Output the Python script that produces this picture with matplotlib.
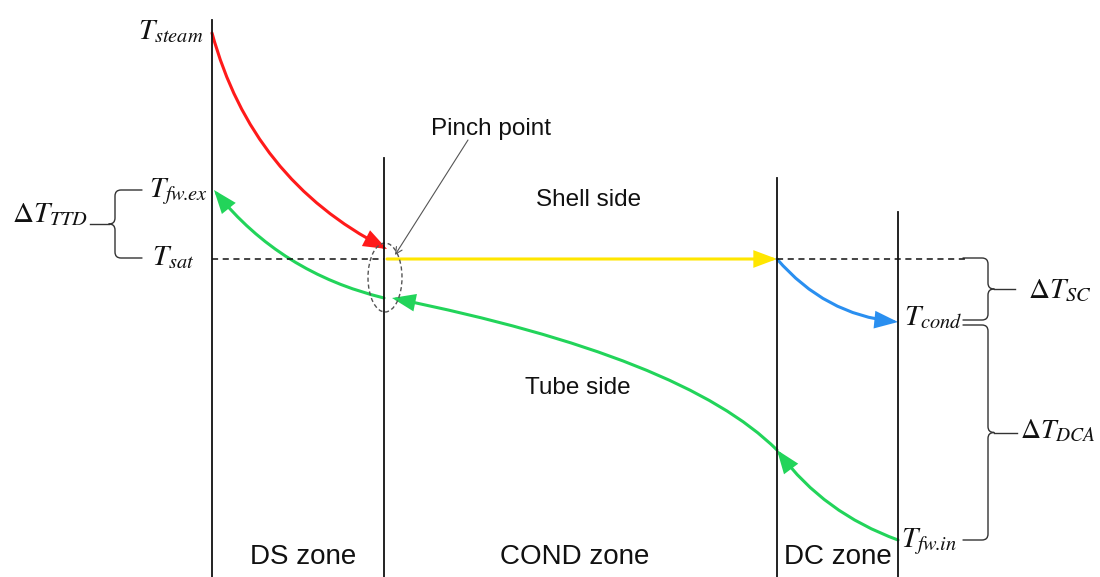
"""Temperature profile sketch of a feedwater heater: DS / COND / DC zones."""

import matplotlib.pyplot as plt
from matplotlib.patches import FancyArrowPatch, Ellipse
from matplotlib.path import Path

plt.rcParams["mathtext.fontset"] = "stix"
plt.rcParams["font.family"] = ["Liberation Sans", "DejaVu Sans"]

# zone boundaries along the heater and how high each boundary line is drawn
zone_x = [212, 384, 777, 898]
zone_top = [557, 419, 399, 365]
zone_names = ["DS zone", "COND zone", "DC zone"]
zone_label_x = [303, 575, 838]

# temperature levels (drawing units, higher = hotter)
T_steam = 544
T_fw_ex = 387
T_sat = 318
T_cond = 255
T_fw_in = 37
T_fw_pinch = 279
T_fw_dc = 127

RED = "#FF1A1A"
GREEN = "#22D45A"
YELLOW = "#FFE600"
BLUE = "#2A8FF0"
INK = "#111111"
BRACE = "#333333"

MATH_SIZE = 21
TEXT_SIZE = 17.5
ZONE_SIZE = 20
HEAD = "-|>,head_length=0.8,head_width=0.3"


def arrow(ax, start, end, color, rad=0.0, ctrl=None, lw=2.2):
    """Arrow along a straight line, an arc3 bend, or a quadratic through ctrl."""
    style = dict(arrowstyle=HEAD, mutation_scale=16, color=color, lw=lw,
                 shrinkA=0, shrinkB=0, joinstyle="miter")
    if ctrl is None:
        patch = FancyArrowPatch(start, end, connectionstyle=f"arc3,rad={rad}",
                                **style)
    else:
        path = Path([start, ctrl, end], [Path.MOVETO, Path.CURVE3, Path.CURVE3])
        patch = FancyArrowPatch(path=path, **style)
    ax.add_patch(patch)


def draw_brace(ax, x_arm, x_spine, y_lo, y_hi, x_tip, r=6):
    """Curly brace with horizontal arms at y_lo / y_hi and a cusp at mid height."""
    d = 1 if x_tip > x_spine else -1
    y_mid = (y_lo + y_hi) / 2
    for y_end, s in ((y_hi, 1), (y_lo, -1)):
        verts = [
            (x_arm, y_end),
            (x_spine - d * r, y_end),
            (x_spine, y_end),
            (x_spine, y_end - s * r),
            (x_spine, y_mid + s * r),
            (x_spine, y_mid),
            (x_spine + d * r, y_mid),
        ]
        codes = [Path.MOVETO, Path.LINETO, Path.CURVE3, Path.CURVE3,
                 Path.LINETO, Path.CURVE3, Path.CURVE3]
        ax.add_patch(FancyArrowPatch(path=Path(verts, codes), arrowstyle="-",
                                     color=BRACE, lw=1.0))
    ax.plot([x_spine + d * r, x_tip], [y_mid, y_mid], color=BRACE, lw=1.0)


fig = plt.figure(figsize=(11, 5.77), dpi=100)
ax = fig.add_axes([0, 0, 1, 1])
ax.set_xlim(0, 1100)
ax.set_ylim(0, 577)
ax.axis("off")

# zone boundary lines
for x, top in zip(zone_x, zone_top):
    ax.plot([x, x], [0, top], color=INK, lw=1.3)

# saturation level, dashed outside the condensing zone
ax.plot([zone_x[0], zone_x[1]], [T_sat, T_sat], color=INK, lw=1.1, ls=(0, (4, 3)))
ax.plot([zone_x[2], 965], [T_sat, T_sat], color=INK, lw=1.1, ls=(0, (4, 3)))

# shell side: desuperheating, condensing, drain cooling
arrow(ax, (zone_x[0], T_steam), (zone_x[1] + 3, T_sat + 10), RED, rad=0.22)
arrow(ax, (zone_x[1] + 3, T_sat), (zone_x[2], T_sat), YELLOW)
arrow(ax, (zone_x[2], T_sat), (zone_x[3], T_cond), BLUE, rad=0.2)

# tube side: feedwater flows right to left
arrow(ax, (zone_x[3], T_fw_in), (zone_x[2], T_fw_dc), GREEN, rad=-0.15)
arrow(ax, (zone_x[2], T_fw_dc), (zone_x[1] + 8, T_fw_pinch), GREEN,
      ctrl=(684, 220))
arrow(ax, (zone_x[1], T_fw_pinch), (zone_x[0] + 2, T_fw_ex), GREEN, rad=-0.17)

# pinch point marker
ax.add_patch(Ellipse((zone_x[1] + 1, 299.5), 34, 69, fill=False,
                     ec="#555555", lw=1.0, ls=(0, (3, 2))))
ax.add_patch(FancyArrowPatch((468, 437), (395, 322), arrowstyle="->",
                             mutation_scale=12, color="#555555", lw=0.8,
                             shrinkA=0, shrinkB=0))
ax.text(491, 448, "Pinch point", fontsize=TEXT_SIZE, ha="center",
        va="center", color=INK)

ax.text(589, 377, "Shell side", fontsize=TEXT_SIZE, ha="center",
        va="center", color=INK)
ax.text(578, 189, "Tube side", fontsize=TEXT_SIZE, ha="center",
        va="center", color=INK)

for name, x in zip(zone_names, zone_label_x):
    ax.text(x, 20, name, fontsize=ZONE_SIZE, ha="center", va="center",
            color=INK)

# temperature labels
ax.text(203, 577 - 39, r"$T_{steam}$", fontsize=MATH_SIZE, ha="right",
        va="baseline", color=INK)
ax.text(208, 577 - 197, r"$T_{fw\!.\!ex}$", fontsize=MATH_SIZE,
        ha="right", va="baseline", color=INK)
ax.text(194, 577 - 265, r"$T_{sat}$", fontsize=MATH_SIZE, ha="right",
        va="baseline", color=INK)
ax.text(904, 577 - 325, r"$T_{cond}$", fontsize=MATH_SIZE, ha="left",
        va="baseline", color=INK)
ax.text(901, 577 - 547, r"$T_{fw\!.\!in}$", fontsize=MATH_SIZE,
        ha="left", va="baseline", color=INK)

# temperature differences
draw_brace(ax, 142, 115, T_sat + 1, T_fw_ex, 90)
ax.text(12, 577 - 222, r"$\Delta T_{TTD}$", fontsize=MATH_SIZE, ha="left",
        va="baseline", color=INK)

draw_brace(ax, 963, 988, T_cond + 2, T_sat + 1, 1015)
ax.text(1028, 577 - 298, r"$\Delta T_{SC}$", fontsize=MATH_SIZE, ha="left",
        va="baseline", color=INK)

draw_brace(ax, 963, 988, T_fw_in, T_cond - 3, 1017)
ax.text(1020, 577 - 438, r"$\Delta T_{DCA}$", fontsize=MATH_SIZE - 1,
        ha="left", va="baseline", color=INK)

fig.savefig("out.png", dpi=100, facecolor="white")
